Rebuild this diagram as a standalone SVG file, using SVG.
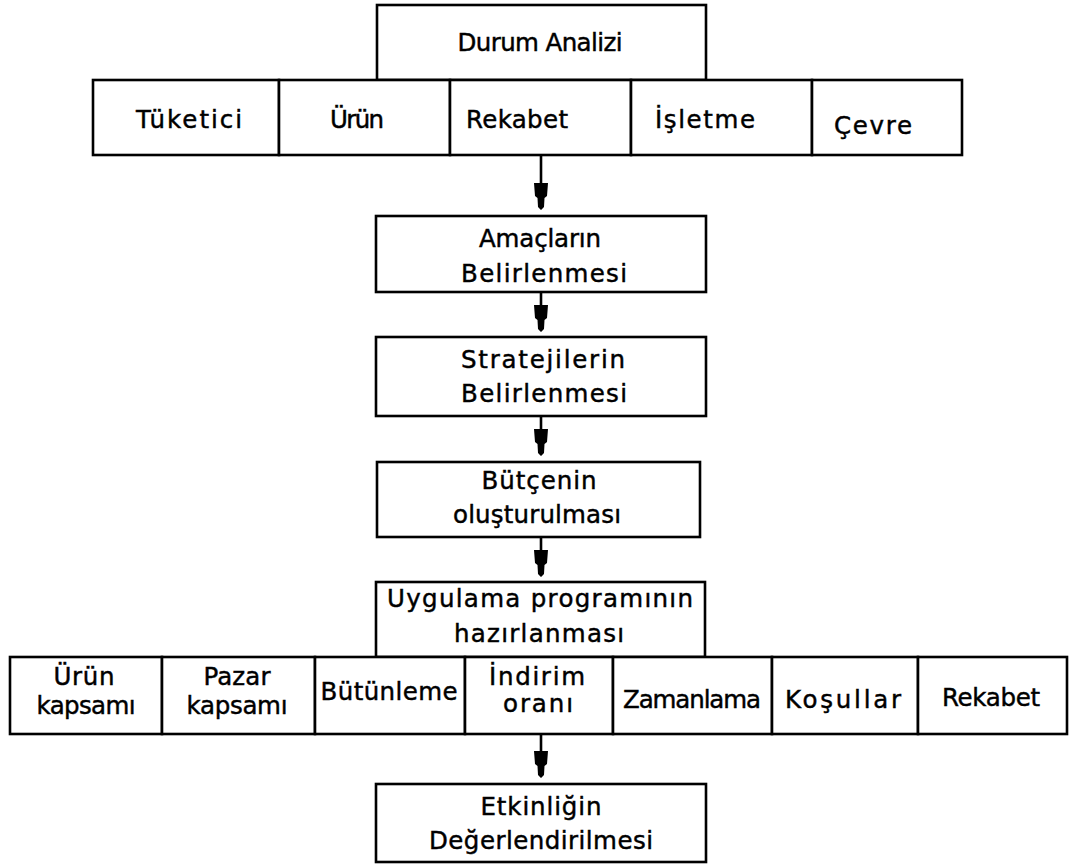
<svg xmlns="http://www.w3.org/2000/svg" width="1070" height="867" viewBox="0 0 1070 867">
<style>
.b{fill:#fff;stroke:#000;stroke-width:2.6}
.t{font-family:"DejaVu Sans","Liberation Sans",sans-serif;font-size:24.5px;fill:#000;stroke:#000;stroke-width:0.45;text-anchor:middle}
.c{stroke:#000;stroke-width:2.6;fill:none}
.h{fill:#000}
</style>
<defs>
<path id="ah" d="M-7,-27 L7,-27 L6,-14 L3.5,-12 L3,-3 L0,0 L-3,-3 L-3.5,-12 L-6,-14 Z"/>
</defs>
<rect width="1070" height="867" fill="#fff"/>
<g id="durum-analizi"><rect class="b" x="377" y="5" width="329" height="75"/><text class="t" x="540" y="51" textLength="165" lengthAdjust="spacing">Durum Analizi</text></g>
<g id="tuketici"><rect class="b" x="93" y="80" width="186" height="75"/><text class="t" x="189" y="128" textLength="106" lengthAdjust="spacing">Tüketici</text></g>
<g id="urun"><rect class="b" x="279" y="80" width="171" height="75"/><text class="t" x="357" y="128" textLength="54" lengthAdjust="spacing">Ürün</text></g>
<g id="rekabet1"><rect class="b" x="450" y="80" width="181" height="75"/><text class="t" x="517" y="128" textLength="102" lengthAdjust="spacing">Rekabet</text></g>
<g id="isletme"><rect class="b" x="631" y="80" width="181" height="75"/><text class="t" x="705" y="128" textLength="100" lengthAdjust="spacing">İşletme</text></g>
<g id="cevre"><rect class="b" x="812" y="80" width="150" height="75"/><text class="t" x="873" y="134" textLength="78" lengthAdjust="spacing">Çevre</text></g>
<g id="amaclarin"><rect class="b" x="376" y="216" width="330" height="76"/><text class="t" x="540" y="247" textLength="122" lengthAdjust="spacing">Amaçların</text><text class="t" x="544" y="282" textLength="166" lengthAdjust="spacing">Belirlenmesi</text></g>
<g id="stratejilerin"><rect class="b" x="376" y="337" width="330" height="79"/><text class="t" x="543" y="368" textLength="164" lengthAdjust="spacing">Stratejilerin</text><text class="t" x="544" y="402" textLength="166" lengthAdjust="spacing">Belirlenmesi</text></g>
<g id="butcenin"><rect class="b" x="377" y="462" width="323" height="75"/><text class="t" x="539" y="489" textLength="115" lengthAdjust="spacing">Bütçenin</text><text class="t" x="537" y="523" textLength="168" lengthAdjust="spacing">oluşturulması</text></g>
<g id="uygulama"><rect class="b" x="376" y="582" width="329" height="75"/><text class="t" x="540" y="607" textLength="306" lengthAdjust="spacing">Uygulama  programının</text><text class="t" x="539" y="642" textLength="170" lengthAdjust="spacing">hazırlanması</text></g>
<g id="urun-kapsami"><rect class="b" x="10" y="657" width="152" height="77"/><text class="t" x="84" y="685" textLength="61" lengthAdjust="spacing">Ürün</text><text class="t" x="86" y="714" textLength="99" lengthAdjust="spacing">kapsamı</text></g>
<g id="pazar-kapsami"><rect class="b" x="162" y="657" width="153" height="77"/><text class="t" x="237" y="685" textLength="67" lengthAdjust="spacing">Pazar</text><text class="t" x="237" y="714" textLength="101" lengthAdjust="spacing">kapsamı</text></g>
<g id="butunleme"><rect class="b" x="315" y="657" width="150" height="77"/><text class="t" x="389" y="700" textLength="137" lengthAdjust="spacing">Bütünleme</text></g>
<g id="indirim-orani"><rect class="b" x="465" y="657" width="148" height="77"/><text class="t" x="537" y="685" textLength="96" lengthAdjust="spacing">İndirim</text><text class="t" x="538" y="712" textLength="70" lengthAdjust="spacing">oranı</text></g>
<g id="zamanlama"><rect class="b" x="613" y="657" width="159" height="77"/><text class="t" x="692" y="708" textLength="138" lengthAdjust="spacing">Zamanlama</text></g>
<g id="kosullar"><rect class="b" x="772" y="657" width="146" height="77"/><text class="t" x="843" y="708" textLength="116" lengthAdjust="spacing">Koşullar</text></g>
<g id="rekabet2"><rect class="b" x="918" y="657" width="149" height="77"/><text class="t" x="991" y="706" textLength="98" lengthAdjust="spacing">Rekabet</text></g>
<g id="etkinligin"><rect class="b" x="376" y="784" width="330" height="78"/><text class="t" x="541" y="815" textLength="121" lengthAdjust="spacing">Etkinliğin</text><text class="t" x="541" y="849" textLength="224" lengthAdjust="spacing">Değerlendirilmesi</text></g>
<g id="connectors">
<line class="c" x1="541" y1="155" x2="541" y2="185"/><use href="#ah" class="h" x="541" y="210"/>
<line class="c" x1="541" y1="292" x2="541" y2="307"/><use href="#ah" class="h" x="541" y="332"/>
<line class="c" x1="541" y1="416" x2="541" y2="431"/><use href="#ah" class="h" x="541" y="456"/>
<line class="c" x1="541" y1="537" x2="541" y2="552"/><use href="#ah" class="h" x="541" y="577"/>
<line class="c" x1="541" y1="734" x2="541" y2="752"/><use href="#ah" class="h" x="541" y="778"/>
</g>
</svg>
